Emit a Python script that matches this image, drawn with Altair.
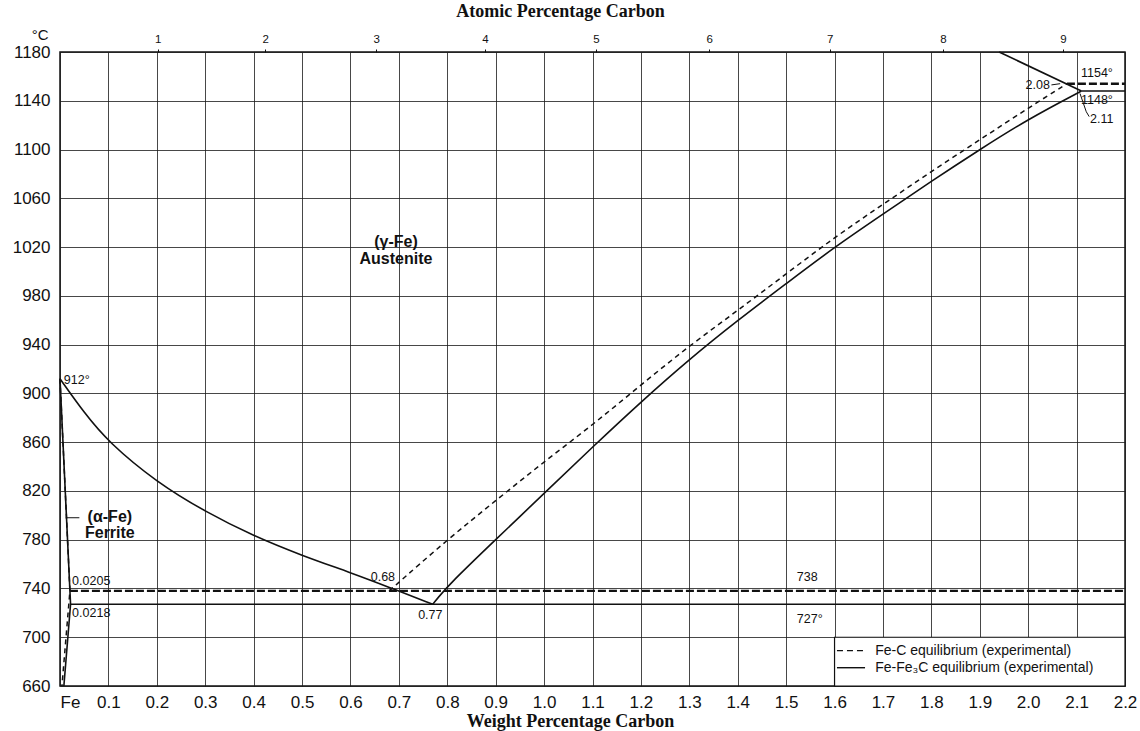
import altair as alt
import pandas as pd

# ---- phase boundaries: weight % carbon vs temperature (°C) ----
# Fe-Fe3C (solid) boundaries
a3_wt = [0.0, 0.05, 0.1, 0.2, 0.3, 0.4, 0.5, 0.6, 0.68, 0.77]
a3_temp = [912, 884, 860, 827, 803, 783, 767, 753, 741, 727]

acm_wt = [0.77, 0.8, 0.9, 1.0, 1.1, 1.2, 1.3, 1.4, 1.5, 1.6, 1.7, 1.8, 1.9, 2.0, 2.11]
acm_temp = [727, 742, 780, 818, 856, 893, 928, 960, 990, 1020, 1047, 1074, 1100, 1125, 1148]

alpha_wt = [0.0, 0.0218, 0.008]
alpha_temp = [912, 727, 660]

solidus_wt = [1.94, 2.11]
solidus_temp = [1180, 1148]

eutectoid_wt = [0.0218, 2.2]
eutectoid_temp = [727, 727]

eutectic_wt = [2.11, 2.2]
eutectic_temp = [1148, 1148]

# Fe-C (graphite, dashed) boundaries
acm_c_wt = [0.68, 0.8, 0.9, 1.0, 1.1, 1.2, 1.3, 1.4, 1.5, 1.6, 1.7, 1.8, 1.9, 2.0, 2.08]
acm_c_temp = [738, 780, 812, 844, 874, 907, 939, 968, 998, 1028, 1055, 1082, 1108, 1134, 1154]

alpha_c_wt = [0.0, 0.0205, 0.004]
alpha_c_temp = [912, 738, 660]

eutectoid_c_wt = [0.0205, 2.2]
eutectoid_c_temp = [738, 738]

eutectic_c_wt = [2.08, 2.2]
eutectic_c_temp = [1154, 1154]

# leader lines for labels
leader_ferrite_wt = [0.012, 0.04]
leader_ferrite_temp = [798, 798]
leader_211_wt = [2.107, 2.12, 2.126]
leader_211_temp = [1146, 1131, 1127]
leader_208_wt = [2.048, 2.066]
leader_208_temp = [1153, 1154]

# ---- axis ticks ----
wt_ticks = [0.0, 0.1, 0.2, 0.3, 0.4, 0.5, 0.6, 0.7, 0.8, 0.9, 1.0, 1.1,
            1.2, 1.3, 1.4, 1.5, 1.6, 1.7, 1.8, 1.9, 2.0, 2.1, 2.2]
temp_ticks = [660, 700, 740, 780, 820, 860, 900, 940, 980, 1020, 1060,
              1100, 1140, 1180]
atomic_labels = ["1", "2", "3", "4", "5", "6", "7", "8", "9"]
atomic_wt = [0.202, 0.424, 0.653, 0.878, 1.107, 1.341, 1.590, 1.824, 2.072]

# ---- annotations ----
note_text = ["912°", "0.0205", "0.0218", "0.68", "0.77", "738", "727°",
             "1154°", "2.08", "1148°", "2.11"]
note_wt = [0.008, 0.025, 0.025, 0.667, 0.765, 1.522, 1.522,
           2.142, 2.045, 2.142, 2.152]
note_temp = [911, 746, 720, 749, 718, 749, 715, 1163, 1153, 1141, 1125]
note_align = ["left", "left", "left", "center", "center", "left", "left",
              "center", "right", "center", "center"]

# two-line phase labels, placed by their first line
phase_text = ["(γ-Fe)\nAustenite", "(α-Fe)\nFerrite"]
phase_wt = [0.694, 0.103]
phase_temp = [1024, 799]

legend_text = ["Fe-C equilibrium (experimental)",
               "Fe-Fe₃C equilibrium (experimental)"]
legend_temp = [689, 675]
legend_sample_wt = [1.605, 1.663]
legend_text_wt = 1.684
legend_box_wt = [1.6, 2.2]
legend_box_temp = [660, 700]

SANS = "Liberation Sans"
SERIF = "Liberation Serif"
INK = "#111111"


def rows(name, xs, ts):
    return [{"curve": name, "i": k, "wt": x, "temp": t}
            for k, (x, t) in enumerate(zip(xs, ts))]


curved_df = pd.DataFrame(rows("a3", a3_wt, a3_temp) + rows("acm", acm_wt, acm_temp))
solid_df = pd.DataFrame(
    rows("alpha", alpha_wt, alpha_temp)
    + rows("solidus", solidus_wt, solidus_temp)
    + rows("eutectoid", eutectoid_wt, eutectoid_temp)
    + rows("eutectic", eutectic_wt, eutectic_temp)
)
dashed_curve_df = pd.DataFrame(rows("acm_c", acm_c_wt, acm_c_temp))
dashed_df = pd.DataFrame(rows("alpha_c", alpha_c_wt, alpha_c_temp))
thick_dashed_df = pd.DataFrame(
    rows("eutectoid_c", eutectoid_c_wt, eutectoid_c_temp)
    + rows("eutectic_c", eutectic_c_wt, eutectic_c_temp)
)
leader_df = pd.DataFrame(
    rows("ferrite", leader_ferrite_wt, leader_ferrite_temp)
    + rows("l211", leader_211_wt, leader_211_temp)
    + rows("l208", leader_208_wt, leader_208_temp)
)
notes_df = pd.DataFrame({"wt": note_wt, "temp": note_temp,
                         "label": note_text, "align": note_align})
phase_df = pd.DataFrame({"wt": phase_wt, "temp": phase_temp, "label": phase_text})
box_df = pd.DataFrame({"wt": [legend_box_wt[0]], "wt2": [legend_box_wt[1]],
                       "temp": [legend_box_temp[0]], "temp2": [legend_box_temp[1]]})
legend_dash_df = pd.DataFrame(rows("s", legend_sample_wt, [legend_temp[0]] * 2))
legend_solid_df = pd.DataFrame(rows("s", legend_sample_wt, [legend_temp[1]] * 2))
legend_text_df = pd.DataFrame({"wt": [legend_text_wt] * 2, "temp": legend_temp,
                               "label": legend_text})
atomic_df = pd.DataFrame({"wt": atomic_wt, "temp": [1180] * len(atomic_wt)})

xscale = alt.Scale(domain=[0, 2.2], nice=False, zero=False)
yscale = alt.Scale(domain=[660, 1180], nice=False, zero=False)

bottom_axis = alt.Axis(
    values=wt_ticks,
    labelExpr="datum.value == 0 ? 'Fe' : format(datum.value, '.1f')",
    labelAlign={"condition": {"test": "datum.value == 0", "value": "left"},
                "value": "center"},
    labelFont=SANS, labelFontSize=17, labelColor=INK, labelPadding=8,
    ticks=False, domain=False, grid=True, gridColor="#1a1a1a",
    gridOpacity=0.8, gridWidth=1,
    title="Weight Percentage Carbon", titleFont=SERIF, titleFontSize=18,
    titleFontWeight="bold", titleColor=INK, titleX=510, titleY=35,
    titleBaseline="middle", titleAnchor="start", titleAlign="center",
)
left_axis = alt.Axis(
    values=temp_ticks, format="d",
    labelFont=SANS, labelFontSize=17, labelColor=INK, labelPadding=10,
    ticks=False, domain=False, grid=True, gridColor="#1a1a1a",
    gridOpacity=0.8, gridWidth=1,
    title="°C", titleAngle=0, titleFont=SANS, titleFontSize=15,
    titleFontWeight="normal", titleColor=INK, titleX=-12, titleY=-18,
    titleAlign="right", titleBaseline="middle",
)
atomic_expr = "{%s}[format(datum.value, '.3f')]" % ", ".join(
    "'%.3f': '%s'" % (w, a) for w, a in zip(atomic_wt, atomic_labels))
top_axis = alt.Axis(
    orient="top", values=atomic_wt, labelExpr=atomic_expr,
    labelFont=SANS, labelFontSize=11.5, labelColor=INK, labelPadding=5,
    ticks=True, tickSize=3, tickColor=INK, domain=False, grid=False,
    title="Atomic Percentage Carbon", titleFont=SERIF, titleFontSize=18,
    titleFontWeight="bold", titleColor=INK, titleX=500, titleY=-41,
    titleBaseline="middle", titleAnchor="start", titleAlign="center",
)


def X(axis=None, field="wt"):
    return alt.X(f"{field}:Q", scale=xscale, axis=axis)


def Y(axis=None, field="temp"):
    return alt.Y(f"{field}:Q", scale=yscale, axis=axis)


# legend box (also carries the main axes and grid)
box = alt.Chart(box_df).mark_rect(fill="white", stroke=INK, strokeWidth=1.2).encode(
    x=X(bottom_axis), x2="wt2:Q", y=Y(left_axis), y2="temp2:Q"
)

curved = alt.Chart(curved_df).mark_line(
    color=INK, strokeWidth=1.6, interpolate="basis"
).encode(x=X(), y=Y(), detail="curve:N", order="i:Q")
solid = alt.Chart(solid_df).mark_line(color=INK, strokeWidth=1.6).encode(
    x=X(), y=Y(), detail="curve:N", order="i:Q"
)
dashed_curve = alt.Chart(dashed_curve_df).mark_line(
    color=INK, strokeWidth=1.5, strokeDash=[5, 4], interpolate="basis"
).encode(x=X(), y=Y(), detail="curve:N", order="i:Q")
dashed = alt.Chart(dashed_df).mark_line(
    color=INK, strokeWidth=1.5, strokeDash=[5, 4]
).encode(x=X(), y=Y(), detail="curve:N", order="i:Q")
thick_dashed = alt.Chart(thick_dashed_df).mark_line(
    color=INK, strokeWidth=2.4, strokeDash=[8, 3]
).encode(x=X(), y=Y(), detail="curve:N", order="i:Q")
leaders = alt.Chart(leader_df).mark_line(color=INK, strokeWidth=1).encode(
    x=X(), y=Y(), detail="curve:N", order="i:Q"
)

# atomic-percent scale along the top edge
atomic = alt.Chart(atomic_df).mark_point(opacity=0).encode(
    x=X(top_axis), y=Y()
)

note_layers = []
for al in ["left", "center", "right"]:
    note_layers.append(
        alt.Chart(notes_df[notes_df["align"] == al]).mark_text(
            font=SANS, fontSize=12.5, color=INK, align=al, baseline="middle"
        ).encode(x=X(), y=Y(), text="label:N")
    )

phases = alt.Chart(phase_df).mark_text(
    font=SANS, fontSize=16, fontWeight="bold", color=INK,
    align="center", baseline="middle", lineBreak="\n", lineHeight=16.5
).encode(x=X(), y=Y(), text="label:N")

leg_dash = alt.Chart(legend_dash_df).mark_line(
    color=INK, strokeWidth=1.3, strokeDash=[6, 4]
).encode(x=X(), y=Y(), order="i:Q")
leg_solid = alt.Chart(legend_solid_df).mark_line(
    color=INK, strokeWidth=1.4
).encode(x=X(), y=Y(), order="i:Q")
leg_text = alt.Chart(legend_text_df).mark_text(
    font=SANS, fontSize=14, color=INK, align="left", baseline="middle"
).encode(x=X(), y=Y(), text="label:N")

chart = alt.layer(
    box, curved, solid, dashed_curve, dashed, thick_dashed, leaders, atomic,
    *note_layers, phases, leg_dash, leg_solid, leg_text
).resolve_axis(
    x="independent", y="independent"
).properties(
    width=1065, height=634,
    autosize=alt.AutoSizeParams(type="none"),
    padding={"left": 60, "top": 52, "right": 15, "bottom": 45},
    background="white",
).configure_view(
    stroke=INK, strokeWidth=1.5
)

chart.save("out.html", embed_options={"renderer": "svg", "actions": False})
